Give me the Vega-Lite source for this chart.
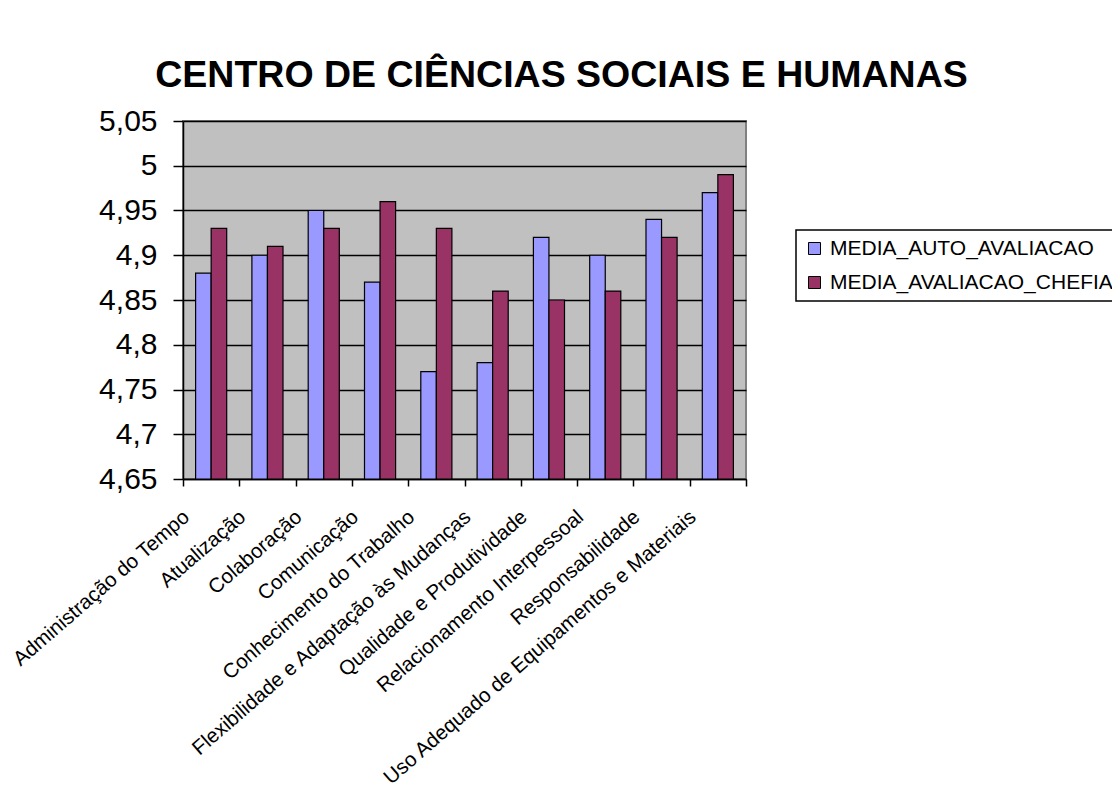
{
  "$schema": "https://vega.github.io/schema/vega-lite/v6.json",
  "autosize": {"type": "none"},
  "width": 563,
  "height": 358,
  "padding": {"left": 183, "top": 121, "right": 366, "bottom": 320},
  "background": "white",
  "title": {
    "text": "CENTRO DE CIÊNCIAS SOCIAIS E HUMANAS",
    "font": "Liberation Sans",
    "fontSize": 37.5,
    "fontWeight": "bold",
    "color": "black",
    "anchor": "middle",
    "frame": "group",
    "dx": 97,
    "offset": 12
  },
  "data": {
    "values": [
      {"criterio": "Administração do Tempo", "serie": "MEDIA_AUTO_AVALIACAO", "valor": 4.88},
      {"criterio": "Administração do Tempo", "serie": "MEDIA_AVALIACAO_CHEFIA", "valor": 4.93},
      {"criterio": "Atualização", "serie": "MEDIA_AUTO_AVALIACAO", "valor": 4.90},
      {"criterio": "Atualização", "serie": "MEDIA_AVALIACAO_CHEFIA", "valor": 4.91},
      {"criterio": "Colaboração", "serie": "MEDIA_AUTO_AVALIACAO", "valor": 4.95},
      {"criterio": "Colaboração", "serie": "MEDIA_AVALIACAO_CHEFIA", "valor": 4.93},
      {"criterio": "Comunicação", "serie": "MEDIA_AUTO_AVALIACAO", "valor": 4.87},
      {"criterio": "Comunicação", "serie": "MEDIA_AVALIACAO_CHEFIA", "valor": 4.96},
      {"criterio": "Conhecimento do Trabalho", "serie": "MEDIA_AUTO_AVALIACAO", "valor": 4.77},
      {"criterio": "Conhecimento do Trabalho", "serie": "MEDIA_AVALIACAO_CHEFIA", "valor": 4.93},
      {"criterio": "Flexibilidade e Adaptação às Mudanças", "serie": "MEDIA_AUTO_AVALIACAO", "valor": 4.78},
      {"criterio": "Flexibilidade e Adaptação às Mudanças", "serie": "MEDIA_AVALIACAO_CHEFIA", "valor": 4.86},
      {"criterio": "Qualidade e Produtividade", "serie": "MEDIA_AUTO_AVALIACAO", "valor": 4.92},
      {"criterio": "Qualidade e Produtividade", "serie": "MEDIA_AVALIACAO_CHEFIA", "valor": 4.85},
      {"criterio": "Relacionamento Interpessoal", "serie": "MEDIA_AUTO_AVALIACAO", "valor": 4.90},
      {"criterio": "Relacionamento Interpessoal", "serie": "MEDIA_AVALIACAO_CHEFIA", "valor": 4.86},
      {"criterio": "Responsabilidade", "serie": "MEDIA_AUTO_AVALIACAO", "valor": 4.94},
      {"criterio": "Responsabilidade", "serie": "MEDIA_AVALIACAO_CHEFIA", "valor": 4.92},
      {"criterio": "Uso Adequado de Equipamentos e Materiais", "serie": "MEDIA_AUTO_AVALIACAO", "valor": 4.97},
      {"criterio": "Uso Adequado de Equipamentos e Materiais", "serie": "MEDIA_AVALIACAO_CHEFIA", "valor": 4.99}
    ]
  },
  "mark": {"type": "bar", "stroke": "black", "strokeWidth": 1.2},
  "encoding": {
    "x": {
      "field": "criterio",
      "type": "nominal",
      "sort": null,
      "scale": {"paddingInner": 0, "paddingOuter": 0},
      "axis": {
        "title": null,
        "tickBand": "extent",
        "domainColor": "black",
        "domainWidth": 1.5,
        "tickColor": "black",
        "tickWidth": 1.5,
        "tickSize": 7,
        "labelAngle": -41,
        "labelAlign": "right",
        "labelBaseline": "middle",
        "labelFont": "Liberation Sans",
        "labelFontSize": 20.5,
        "labelColor": "black",
        "labelPadding": 28,
        "labelOffset": -25,
        "labelOverlap": false,
        "labelLimit": 0
      }
    },
    "xOffset": {
      "field": "serie",
      "type": "nominal",
      "scale": {"paddingInner": 0, "paddingOuter": 0.81}
    },
    "y": {
      "field": "valor",
      "type": "quantitative",
      "scale": {"domain": [4.65, 5.05], "zero": false, "nice": false},
      "axis": {
        "title": null,
        "values": [4.65, 4.7, 4.75, 4.8, 4.85, 4.9, 4.95, 5, 5.05],
        "format": ".2~f",
        "labelExpr": "replace(datum.label, '.', ',')",
        "labelFont": "Liberation Sans",
        "labelFontSize": 30,
        "labelColor": "black",
        "labelPadding": 16,
        "tickSize": 10,
        "tickColor": "black",
        "tickWidth": 1.5,
        "domainColor": "black",
        "domainWidth": 1.5,
        "grid": true,
        "gridColor": "black",
        "gridWidth": 1.5
      }
    },
    "y2": {"datum": 4.65},
    "color": {
      "field": "serie",
      "type": "nominal",
      "scale": {"domain": ["MEDIA_AUTO_AVALIACAO", "MEDIA_AVALIACAO_CHEFIA"], "range": ["#9999FF", "#993366"]},
      "legend": {
        "title": null,
        "orient": "none",
        "legendX": 613,
        "legendY": 109,
        "symbolType": "square",
        "symbolSize": 144,
        "symbolStrokeColor": "black",
        "symbolStrokeWidth": 1,
        "labelFont": "Liberation Sans",
        "labelFontSize": 21,
        "labelColor": "black",
        "labelOffset": 5,
        "labelLimit": 0,
        "rowPadding": 12,
        "padding": 8,
        "strokeColor": "black",
        "fillColor": "white"
      }
    }
  },
  "config": {
    "view": {"fill": "#C0C0C0", "stroke": "#808080", "strokeWidth": 2},
    "legend": {"strokeWidth": 1.5}
  }
}
